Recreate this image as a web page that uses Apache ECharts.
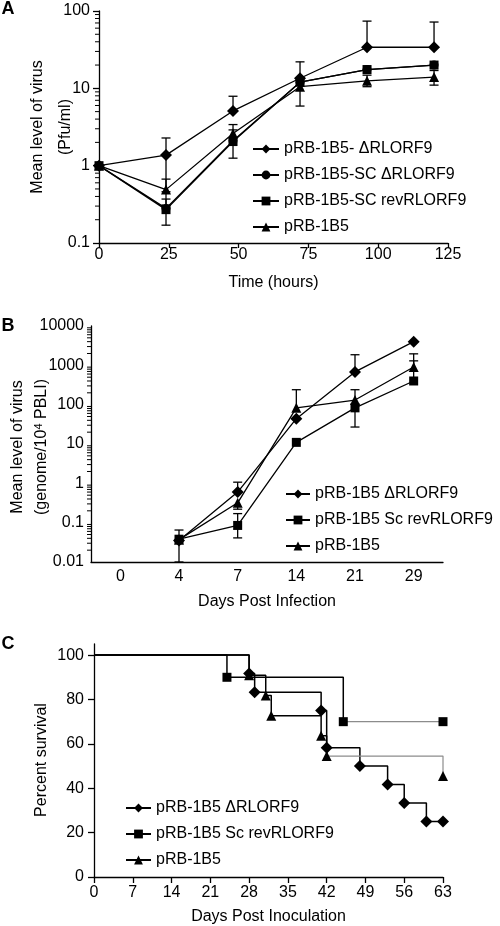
<!DOCTYPE html>
<html><head><meta charset="utf-8">
<script src="https://cdn.jsdelivr.net/npm/echarts@6/dist/echarts.min.js"></script>
<style>html,body{margin:0;padding:0;background:#fff}#c{width:500px;height:926px}</style>
</head><body><div id="c"></div>
<script>
// ---------- Panel A ----------
const timeA = [0, 24, 48, 72, 96, 120];
const A_names = ['pRB-1B5- ΔRLORF9', 'pRB-1B5-SC ΔRLORF9', 'pRB-1B5-SC revRLORF9', 'pRB-1B5'];
const A_delta   = [1, 1.37, 5.1, 13.5, 34, 34];
const A_scDelta = [1, 0.28, 2.1, 12, 17.5, 20];
const A_scRev   = [1, 0.27, 2.05, 12, 17.5, 20];
const A_wt      = [1, 0.49, 2.6, 10.5, 12.5, 14];
const A_delta_hi = [null, 2.28, 7.9, 22, 74, 72];
const A_delta_lo = [null, 0.46, null, null, null, null];
const A_scRev_hi = [null, 0.37, 2.9, null, null, null];
const A_scRev_lo = [null, 0.17, 1.25, null, null, null];
const A_wt_hi    = [null, 0.67, 3.4, null, 14.8, 17];
const A_wt_lo    = [null, 0.31, null, 5.9, 10.5, 11];
const A_yTicks = [0.1, 1, 10, 100];

// ---------- Panel B ----------
const daysB = ['0', '4', '7', '14', '21', '29'];
const B_names = ['pRB-1B5 ΔRLORF9', 'pRB-1B5 Sc revRLORF9', 'pRB-1B5'];
const B_delta = [null, 0.035, 0.6, 44, 680, 4000];
const B_rev   = [null, 0.038, 0.085, 11, 83, 400];
const B_wt    = [null, 0.037, 0.32, 83, 131, 910];
const B_delta_hi = [null, 0.065, 1.07, null, 1860, null];
const B_delta_lo = [null, 0.01, null, null, null, null];
const B_rev_hi   = [null, null, 0.17, null, null, 1300];
const B_rev_lo   = [null, null, 0.041, null, 27, null];
const B_wt_hi    = [null, null, null, 240, 240, 1960];
const B_wt_lo    = [null, null, 0.22, null, null, null];
const B_yTicks = [0.01, 0.1, 1, 10, 100, 1000, 10000];

// ---------- Panel C ----------
const C_names = ['pRB-1B5 ΔRLORF9', 'pRB-1B5 Sc revRLORF9', 'pRB-1B5'];
const C_delta_days = [0, 28, 29, 41, 42, 48, 53, 56, 60, 63];
const C_delta_surv = [100, 91.7, 83.3, 75, 58.3, 50, 41.7, 33.3, 25, 25];
const C_rev_days = [0, 24, 45, 63];
const C_rev_surv = [100, 90, 70, 70];
const C_wt_days = [0, 28, 31, 32, 41, 42, 63];
const C_wt_surv = [100, 90.9, 81.8, 72.7, 63.6, 54.5, 45.5];
const C_yTicks = [0, 20, 40, 60, 80, 100];

const FONT = 'Liberation Sans, Arial, sans-serif';
const BLACK = '#000';

function minorTicks(decades) {
  const out = [];
  decades.slice(0, -1).forEach(d => { for (let m = 2; m <= 9; m++) out.push(+(m * d).toPrecision(6)); });
  return out;
}
const fmtNum = v => String(+(+v).toPrecision(6));

const lbl = (margin) => ({ color: BLACK, fontSize: 16, fontFamily: FONT, margin });
const axLine = { show: true, lineStyle: { color: BLACK, width: 1.3 } };

function lineSeries(name, xi, yi, data, symbol, size, extra) {
  return Object.assign({
    type: 'line', name, xAxisIndex: xi, yAxisIndex: yi, data, symbol, symbolSize: size,
    lineStyle: { color: BLACK, width: 1.3 }, itemStyle: { color: BLACK },
    connectNulls: false, z: 3, animation: false
  }, extra || {});
}

function errSeries(xi, yi, xs, means, lo, hi) {
  const data = [];
  xs.forEach((x, i) => {
    if (means[i] == null) return;
    if (lo[i] == null && hi[i] == null) return;
    data.push([x, lo[i] != null ? lo[i] : means[i], hi[i] != null ? hi[i] : means[i], lo[i] != null ? 1 : 0, hi[i] != null ? 1 : 0]);
  });
  return {
    type: 'custom', xAxisIndex: xi, yAxisIndex: yi, data, z: 2, silent: true, animation: false, clip: true,
    encode: { x: 0, y: [1, 2] },
    renderItem(params, api) {
      const x = api.value(0);
      const pLo = api.coord([x, api.value(1)]);
      const pHi = api.coord([x, api.value(2)]);
      const st = { stroke: BLACK, lineWidth: 1.3 };
      const ch = [{ type: 'line', shape: { x1: pLo[0], y1: pLo[1], x2: pHi[0], y2: pHi[1] }, style: st }];
      const w = 4.5;
      if (api.value(3)) ch.push({ type: 'line', shape: { x1: pLo[0] - w, y1: pLo[1], x2: pLo[0] + w, y2: pLo[1] }, style: st });
      if (api.value(4)) ch.push({ type: 'line', shape: { x1: pHi[0] - w, y1: pHi[1], x2: pHi[0] + w, y2: pHi[1] }, style: st });
      return { type: 'group', children: ch };
    }
  };
}

// minor log ticks drawn as a custom series along the y axis (axis decoration)
function minorTickSeries(xi, yi, values, xAt) {
  return {
    type: 'custom', xAxisIndex: xi, yAxisIndex: yi, data: values.map(v => [xAt, v]), z: 5, silent: true, animation: false, clip: false,
    encode: { x: 0, y: 1 },
    renderItem(params, api) {
      const p = api.coord([api.value(0), api.value(1)]);
      const left = params.coordSys.x;
      return { type: 'line', shape: { x1: left - 4, y1: p[1], x2: left, y2: p[1] }, style: { stroke: BLACK, lineWidth: 1 } };
    }
  };
}

function kmData(days, surv) {
  return days.map((d, i) => i === 0 ? { value: [d, surv[i]], symbol: 'none' } : [d, surv[i]]);
}

const chart = echarts.init(document.getElementById('c'), null, { renderer: 'canvas' });

const pairA = arr => timeA.map((t, i) => [t, arr[i]]);

const series = [
  // A
  minorTickSeries(0, 0, minorTicks(A_yTicks), 0),
  errSeries(0, 0, timeA, A_delta, A_delta_lo, A_delta_hi),
  errSeries(0, 0, timeA, A_scRev, A_scRev_lo, A_scRev_hi),
  errSeries(0, 0, timeA, A_wt, A_wt_lo, A_wt_hi),
  lineSeries(A_names[0], 0, 0, pairA(A_delta), 'diamond', 12),
  lineSeries(A_names[1], 0, 0, pairA(A_scDelta), 'circle', 9),
  lineSeries(A_names[2], 0, 0, pairA(A_scRev), 'rect', 9),
  lineSeries(A_names[3], 0, 0, pairA(A_wt), 'triangle', 10),
  // B
  minorTickSeries(1, 1, minorTicks(B_yTicks), 0),
  errSeries(1, 1, daysB.map((d, i) => i), B_delta, B_delta_lo, B_delta_hi),
  errSeries(1, 1, daysB.map((d, i) => i), B_rev, B_rev_lo, B_rev_hi),
  errSeries(1, 1, daysB.map((d, i) => i), B_wt, B_wt_lo, B_wt_hi),
  lineSeries(B_names[0], 1, 1, B_delta, 'diamond', 12),
  lineSeries(B_names[1], 1, 1, B_rev, 'rect', 9),
  lineSeries(B_names[2], 1, 1, B_wt, 'triangle', 10),
  // C (Kaplan-Meier steps)
  lineSeries(C_names[0], 2, 2, kmData(C_delta_days, C_delta_surv), 'diamond', 12, { step: 'end', lineStyle: { color: BLACK, width: 1.5 } }),
  lineSeries(C_names[1], 2, 2, kmData(C_rev_days.slice(0, -1), C_rev_surv.slice(0, -1)), 'rect', 9, { step: 'end', lineStyle: { color: BLACK, width: 1.5 } }),
  lineSeries('tail-rev', 2, 2, kmData(C_rev_days.slice(-2), C_rev_surv.slice(-2)), 'rect', 9, { step: 'end', lineStyle: { color: '#8c8c8c', width: 1.2 } }),
  lineSeries(C_names[2], 2, 2, kmData(C_wt_days.slice(0, -1), C_wt_surv.slice(0, -1)), 'triangle', 10, { step: 'end', lineStyle: { color: BLACK, width: 1.5 } }),
  lineSeries('tail-wt', 2, 2, kmData(C_wt_days.slice(-2), C_wt_surv.slice(-2)), 'triangle', 10, { step: 'end', lineStyle: { color: '#8c8c8c', width: 1.2 } })
];

const legendBase = {
  orient: 'vertical', selectedMode: false, itemHeight: 11,
  textStyle: { color: BLACK, fontSize: 16, fontFamily: FONT }
};

chart.setOption({
  animation: false,
  backgroundColor: '#fff',
  textStyle: { fontFamily: FONT },
  grid: [
    { left: 99, top: 11, width: 349, height: 232 },
    { left: 91, top: 326, width: 352, height: 236 },
    { left: 94, top: 644, width: 349, height: 233 }
  ],
  xAxis: [
    { gridIndex: 0, type: 'value', min: 0, max: 125, interval: 25, axisLine: axLine,
      axisTick: { length: 5, lineStyle: { color: BLACK, width: 1.3 } }, axisLabel: lbl(4), splitLine: { show: false },
      name: 'Time (hours)', nameLocation: 'middle', nameGap: 32, nameTextStyle: { color: BLACK, fontSize: 16, fontFamily: FONT } },
    { gridIndex: 1, type: 'category', data: daysB, boundaryGap: true, axisLine: axLine,
      axisTick: { alignWithLabel: true, length: 7, lineStyle: { color: BLACK, width: 1.3 } }, axisLabel: lbl(7), splitLine: { show: false },
      name: 'Days Post Infection', nameLocation: 'middle', nameGap: 32, nameTextStyle: { color: BLACK, fontSize: 16, fontFamily: FONT } },
    { gridIndex: 2, type: 'value', min: 0, max: 63, interval: 7, axisLine: axLine,
      axisTick: { length: 6, lineStyle: { color: BLACK, width: 1.3 } }, axisLabel: lbl(8), splitLine: { show: false },
      name: 'Days Post Inoculation', nameLocation: 'middle', nameGap: 32, nameTextStyle: { color: BLACK, fontSize: 16, fontFamily: FONT } }
  ],
  yAxis: [
    { gridIndex: 0, type: 'log', logBase: 10, min: 0.1, max: 100, position: 'left', axisLine: axLine,
      axisTick: { length: 6, customValues: A_yTicks, lineStyle: { color: BLACK, width: 1.3 } },
      axisLabel: Object.assign(lbl(9), { customValues: A_yTicks, formatter: fmtNum }), splitLine: { show: false } },
    { gridIndex: 1, type: 'log', logBase: 10, min: 0.01, max: 10000, position: 'left', axisLine: axLine,
      axisTick: { length: 6, customValues: B_yTicks, lineStyle: { color: BLACK, width: 1.3 } },
      axisLabel: Object.assign(lbl(7), { customValues: B_yTicks, formatter: fmtNum }), splitLine: { show: false } },
    { gridIndex: 2, type: 'value', min: 0, max: 105, position: 'left', axisLine: axLine,
      axisTick: { length: 6, customValues: C_yTicks, lineStyle: { color: BLACK, width: 1.3 } },
      axisLabel: Object.assign(lbl(10), { customValues: C_yTicks }), splitLine: { show: false } }
  ],
  legend: [
    Object.assign({}, legendBase, { data: A_names, left: 247, top: 136, itemWidth: 26, itemGap: 10 }),
    Object.assign({}, legendBase, { data: B_names, left: 280, top: 481, itemWidth: 24, itemGap: 10 }),
    Object.assign({}, legendBase, { data: C_names, left: 120, top: 795, itemWidth: 25, itemGap: 10 })
  ],
  graphic: [
    { type: 'text', x: 8, y: 9, style: { text: 'A', font: 'bold 18px ' + FONT, fill: BLACK, align: 'center', verticalAlign: 'middle' } },
    { type: 'text', x: 8, y: 326, style: { text: 'B', font: 'bold 18px ' + FONT, fill: BLACK, align: 'center', verticalAlign: 'middle' } },
    { type: 'text', x: 8, y: 644, style: { text: 'C', font: 'bold 18px ' + FONT, fill: BLACK, align: 'center', verticalAlign: 'middle' } },
    { type: 'text', x: 38, y: 127, rotation: Math.PI / 2, style: { text: 'Mean level of virus', font: '16px ' + FONT, fill: BLACK, align: 'center', verticalAlign: 'middle' } },
    { type: 'text', x: 66, y: 127, rotation: Math.PI / 2, style: { text: '(Pfu/ml)', font: '16px ' + FONT, fill: BLACK, align: 'center', verticalAlign: 'middle' } },
    { type: 'text', x: 18, y: 447, rotation: Math.PI / 2, style: { text: 'Mean level of virus', font: '16px ' + FONT, fill: BLACK, align: 'center', verticalAlign: 'middle' } },
    { type: 'text', x: 42, y: 447, rotation: Math.PI / 2, style: {
        text: '{n|(genome/10}{s|4}{n| PBLI)}', align: 'center', verticalAlign: 'middle',
        rich: { n: { fontSize: 16, fontFamily: FONT, fill: BLACK, color: BLACK }, s: { fontSize: 11, fontFamily: FONT, color: BLACK, fill: BLACK, verticalAlign: 'top', padding: [0, 0, 6, 0] } } } },
    { type: 'text', x: 42, y: 760, rotation: Math.PI / 2, style: { text: 'Percent survival', font: '16px ' + FONT, fill: BLACK, align: 'center', verticalAlign: 'middle' } }
  ],
  series
});
</script>
</body></html>
